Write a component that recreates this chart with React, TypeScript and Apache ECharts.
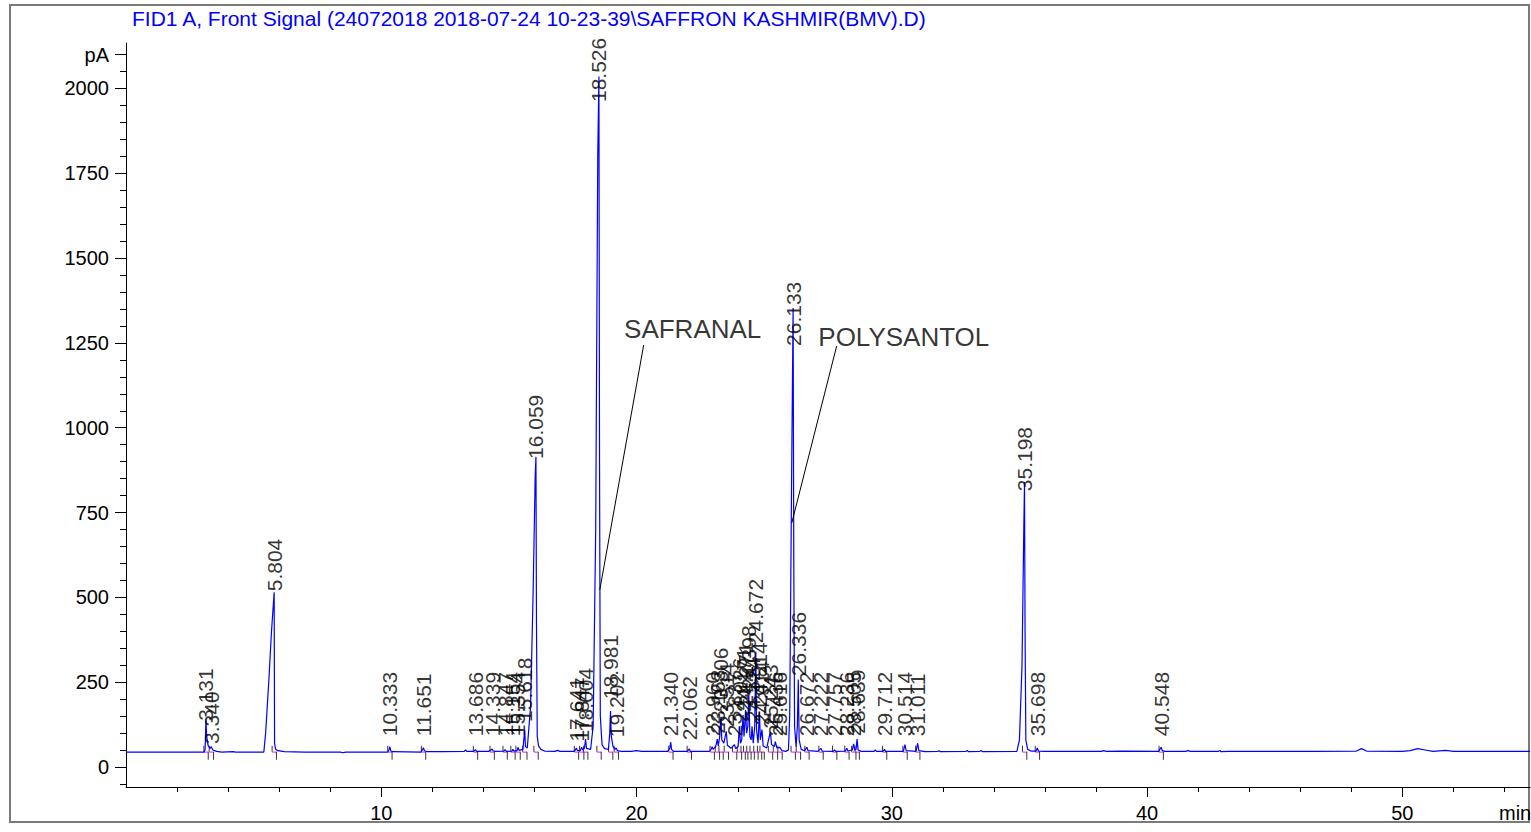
import React, { useEffect, useRef } from 'react';
import * as echarts from 'echarts';

const TITLE = 'FID1 A, Front Signal (24072018 2018-07-24 10-23-39\\SAFFRON KASHMIR(BMV).D)';
const FONT = '"Liberation Sans", Arial, sans-serif';

// Labelled peaks: retention time (min) and apex height (pA)
const peakTimes = [
  3.131, 3.340, 5.804, 10.333, 11.651, 13.686, 14.339, 14.847, 15.154, 15.354, 15.618, 16.059,
  17.641, 17.847, 18.004, 18.526, 18.981, 19.202, 21.340, 22.062, 22.960, 23.163, 23.306, 23.514,
  23.837, 24.026, 24.171, 24.271, 24.398, 24.524, 24.672, 24.814, 24.914, 25.243, 25.436, 25.616,
  26.133, 26.336, 26.672, 27.222, 27.757, 28.236, 28.505, 28.639, 29.712, 30.514, 31.011, 35.198,
  35.698, 40.548,
];
const peakHeights = [
  141, 60, 515, 60, 57, 51, 53, 51, 52, 58, 109, 914,
  56, 58, 82, 2035, 165, 56, 73, 53, 60, 82, 148, 105,
  66, 120, 153, 168, 218, 120, 340, 163, 110, 104, 75, 58,
  1353, 258, 58, 55, 50, 55, 68, 82, 52, 66, 70, 840,
  56, 58,
];
// Signal level (pA) at which each retention-time label starts
const labelLevels = [
  133, 65, 515, 88, 88, 88, 88, 88, 88, 88, 130, 905,
  72, 72, 100, 1957, 197, 85, 88, 76, 88, 95, 160, 115,
  88, 130, 160, 175, 225, 130, 362, 175, 120, 110, 88, 88,
  1238, 265, 88, 88, 88, 88, 88, 95, 88, 88, 88, 810,
  88, 88,
];

// Detector signal trace: [time (min), signal (pA)]
const trace: [number, number][] = [
  [0, 44], [3.06, 44], [3.10, 52], [3.131, 141], [3.16, 90], [3.22, 62], [3.30, 55], [3.340, 60], [3.40, 50],
  [3.55, 46], [3.75, 44], [4.2, 45], [4.3, 44], [5.40, 44], [5.47, 100], [5.60, 260], [5.70, 400], [5.804, 515],
  [5.82, 70], [5.86, 52], [5.95, 48], [6.2, 45], [7.0, 44], [8.4, 44], [8.5, 42], [8.6, 44], [10.25, 44],
  [10.30, 50], [10.333, 60], [10.37, 48], [10.45, 45], [11.55, 44], [11.62, 52], [11.651, 57], [11.69, 48],
  [11.8, 45], [12.4, 45], [13.25, 46], [13.30, 50], [13.35, 46], [13.62, 46], [13.686, 51], [13.74, 46],
  [14.2, 46], [14.30, 50], [14.339, 53], [14.38, 48], [14.45, 46], [14.80, 47], [14.847, 51], [14.9, 46],
  [15.12, 47], [15.154, 52], [15.2, 47], [15.32, 48], [15.354, 58], [15.40, 49], [15.55, 52], [15.618, 109],
  [15.65, 60], [15.72, 56], [15.85, 180], [15.95, 520], [16.03, 860], [16.059, 914], [16.08, 420], [16.11, 90],
  [16.16, 62], [16.25, 52], [16.4, 47], [16.8, 46], [16.9, 49], [17.0, 46], [17.55, 46], [17.60, 50],
  [17.641, 56], [17.69, 48], [17.80, 49], [17.847, 58], [17.89, 50], [17.96, 56], [18.004, 82], [18.04, 55],
  [18.20, 52], [18.30, 120], [18.40, 700], [18.48, 1800], [18.526, 2035], [18.55, 900], [18.58, 150],
  [18.65, 65], [18.75, 54], [18.90, 52], [18.95, 100], [18.981, 165], [19.01, 90], [19.08, 60], [19.16, 52],
  [19.202, 56], [19.25, 48], [19.4, 46], [19.8, 46], [20.0, 48], [20.2, 46], [21.22, 46], [21.30, 55],
  [21.340, 73], [21.37, 52], [21.45, 46], [21.98, 46], [22.062, 53], [22.11, 46], [22.85, 46], [22.92, 52],
  [22.960, 60], [23.0, 52], [23.10, 60], [23.163, 82], [23.20, 62], [23.26, 90], [23.306, 148], [23.34, 80],
  [23.42, 70], [23.514, 105], [23.56, 64], [23.70, 55], [23.837, 66], [23.88, 54], [23.98, 60], [24.026, 120],
  [24.07, 70], [24.12, 80], [24.171, 153], [24.21, 90], [24.271, 168], [24.31, 100], [24.36, 120], [24.398, 218],
  [24.44, 90], [24.49, 80], [24.524, 120], [24.57, 70], [24.63, 120], [24.672, 340], [24.70, 110], [24.76, 70],
  [24.814, 163], [24.85, 80], [24.914, 110], [24.96, 62], [25.10, 56], [25.243, 104], [25.29, 66], [25.40, 60],
  [25.436, 75], [25.50, 56], [25.616, 58], [25.70, 48], [25.85, 46], [25.95, 50], [26.00, 150], [26.08, 900],
  [26.133, 1353], [26.16, 600], [26.19, 120], [26.25, 60], [26.30, 120], [26.336, 258], [26.37, 80],
  [26.45, 52], [26.58, 48], [26.672, 58], [26.72, 48], [27.1, 46], [27.222, 55], [27.27, 47], [27.7, 46],
  [27.757, 50], [27.81, 46], [28.18, 47], [28.236, 55], [28.28, 47], [28.45, 50], [28.505, 68], [28.55, 50],
  [28.60, 52], [28.639, 82], [28.68, 50], [28.8, 46], [29.3, 46], [29.35, 50], [29.4, 46], [29.65, 46],
  [29.712, 52], [29.76, 46], [30.45, 46], [30.514, 66], [30.56, 48], [30.95, 46], [31.011, 70], [31.06, 48],
  [31.3, 45], [31.8, 46], [31.85, 48], [31.9, 45], [32.9, 46], [32.95, 49], [33.0, 45], [33.45, 46],
  [33.5, 49], [33.55, 45], [34.90, 46], [35.00, 80], [35.10, 300], [35.17, 700], [35.198, 840], [35.22, 400],
  [35.25, 80], [35.32, 52], [35.45, 47], [35.65, 47], [35.698, 56], [35.74, 47], [36.0, 46], [38.2, 46],
  [38.3, 48], [38.4, 46], [39.0, 47], [40.45, 46], [40.5, 52], [40.548, 58], [40.6, 48], [40.7, 46],
  [41.5, 46], [41.6, 48], [41.7, 46], [42.8, 46], [42.85, 49], [42.9, 45], [43.2, 46], [46.5, 46],
  [48.2, 47], [48.4, 54], [48.6, 47], [50.0, 46], [50.3, 48], [50.6, 54], [50.9, 50], [51.2, 46],
  [51.7, 49], [52.0, 46], [55, 46],
];

// Compound annotations: text anchor and leader line ends [time, pA]
const annotationNames = ['SAFRANAL', 'POLYSANTOL'];
const annotationText: [number, number][] = [[19.51, 1291], [27.12, 1266]];
const leaderFrom: [number, number][] = [[20.28, 1244], [27.84, 1241]];
const leaderTo: [number, number][] = [[18.56, 522], [26.08, 719]];

// Axis ticks
const xLabelTicks = [10, 20, 30, 40, 50];
const xMinorTicks = [2, 4, 6, 8, 12, 14, 16, 18, 22, 24, 26, 28, 32, 34, 36, 38, 42, 44, 46, 48, 52, 54];
const yLabelTicks = [0, 250, 500, 750, 1000, 1250, 1500, 1750, 2000, 2100];
const yMinorTicks: number[] = [];
for (let v = -50; v <= 2100; v += 50) yMinorTicks.push(v);

const BASE = 45;

export default function App() {
  const ref = useRef<HTMLDivElement>(null);
  useEffect(() => {
    document.body.style.margin = '0';
    const chart = echarts.init(ref.current!, null, { renderer: 'svg' });
    const axisText = { color: '#000', fontFamily: FONT, fontSize: 20 };
    const labelData = peakTimes.map((t, i) => [t, labelLevels[i]]);
    const endMarks = peakTimes.map((t) => [t + 0.09, BASE]);
    const startMarks = peakTimes.map((t) => [t - 0.08, BASE]);
    const integration: any[] = [];
    peakTimes.forEach((t) => {
      integration.push([t - 0.08, BASE - 1], [t + 0.09, BASE - 1], null);
    });
    const leaderSeries = leaderFrom.map((p, i) => ({
      type: 'line',
      data: [p, leaderTo[i]],
      showSymbol: false,
      symbol: 'none',
      silent: true,
      lineStyle: { color: '#000', width: 1 },
      z: 5,
    }));
    chart.setOption({
      animation: false,
      backgroundColor: '#fff',
      grid: { left: 126, right: 1, top: 43, bottom: 45 },
      graphic: [
        {
          type: 'rect',
          shape: { x: 10, y: 5, width: 1519, height: 817 },
          style: { fill: 'none', stroke: '#7a7a7a', lineWidth: 2 },
          silent: true,
        },
        {
          type: 'text',
          left: 132,
          top: 8,
          style: { text: TITLE, fill: '#0000ff', font: `21px ${FONT}` },
        },
        {
          type: 'text',
          left: 1499,
          top: 803,
          style: { text: 'min', fill: '#000', font: `20px ${FONT}` },
        },
      ],
      xAxis: [
        {
          type: 'value', min: 0, max: 55, position: 'bottom',
          axisLine: { show: true, onZero: false, lineStyle: { color: '#000', width: 1 } },
          axisTick: { show: true, length: 10, customValues: xLabelTicks, lineStyle: { color: '#000' } },
          axisLabel: { customValues: xLabelTicks, margin: 16, ...axisText },
          splitLine: { show: false },
        },
        {
          type: 'value', min: 0, max: 55, position: 'bottom',
          axisLine: { show: false, onZero: false },
          axisTick: { show: true, length: 5, customValues: xMinorTicks, lineStyle: { color: '#000' } },
          axisLabel: { show: false },
          splitLine: { show: false },
        },
      ],
      yAxis: [
        {
          type: 'value', min: -59, max: 2134, position: 'left',
          axisLine: { show: true, onZero: false, lineStyle: { color: '#000', width: 1 } },
          axisTick: { show: true, length: 11, customValues: yLabelTicks, lineStyle: { color: '#000' } },
          axisLabel: {
            customValues: yLabelTicks, margin: 17, ...axisText,
            formatter: (v: number) => (v === 2100 ? 'pA' : String(v)),
          },
          splitLine: { show: false },
        },
        {
          type: 'value', min: -59, max: 2134, position: 'left',
          axisLine: { show: false, onZero: false },
          axisTick: { show: true, length: 6, customValues: yMinorTicks, lineStyle: { color: '#000' } },
          axisLabel: { show: false },
          splitLine: { show: false },
        },
      ],
      series: [
        {
          type: 'line',
          data: integration,
          showSymbol: false,
          symbol: 'none',
          connectNulls: false,
          silent: true,
          lineStyle: { color: '#ff40ff', width: 1.2 },
          z: 1,
        },
        {
          type: 'line',
          data: trace,
          showSymbol: false,
          symbol: 'none',
          lineStyle: { color: '#0000ff', width: 1.2 },
          z: 3,
        },
        {
          type: 'scatter',
          data: endMarks,
          symbol: 'rect',
          symbolSize: [1, 8],
          symbolOffset: [0, 4],
          itemStyle: { color: '#000' },
          silent: true,
          z: 2,
        },
        {
          type: 'scatter',
          data: startMarks,
          symbol: 'rect',
          symbolSize: [1, 6],
          symbolOffset: [0, -3],
          itemStyle: { color: '#000' },
          silent: true,
          z: 2,
        },
        {
          type: 'scatter',
          data: labelData,
          symbolSize: 0,
          silent: true,
          label: {
            show: true,
            position: 'top',
            distance: 1,
            rotate: 90,
            align: 'left',
            verticalAlign: 'middle',
            color: '#000',
            fontFamily: FONT,
            fontSize: 21,
            formatter: (p: any) => peakTimes[p.dataIndex].toFixed(3),
          },
          z: 6,
        },
        {
          type: 'scatter',
          data: annotationText,
          symbolSize: 0,
          silent: true,
          label: {
            show: true,
            position: 'right',
            distance: 0,
            color: '#000',
            fontFamily: FONT,
            fontSize: 26,
            formatter: (p: any) => annotationNames[p.dataIndex],
          },
          z: 6,
        },
        ...leaderSeries,
      ],
    });
    return () => chart.dispose();
  }, []);
  return <div ref={ref} style={{ width: 1531, height: 832 }} />;
}
